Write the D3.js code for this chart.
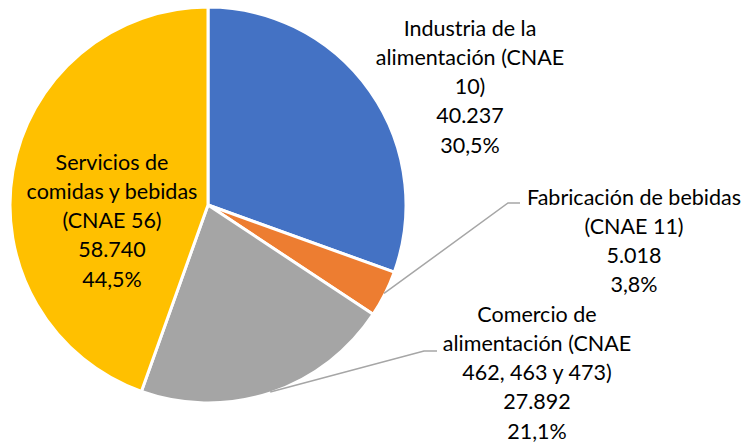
<!DOCTYPE html>
<html>
<head>
<meta charset="utf-8">
<script src="https://cdn.jsdelivr.net/npm/d3@7"></script>
<style>
  body { margin: 0; background: #fff; }
  svg { display: block; }
</style>
</head>
<body>
<script>
const categories = ["Industria de la alimentación (CNAE 10)", "Fabricación de bebidas (CNAE 11)", "Comercio de alimentación (CNAE 462, 463 y 473)", "Servicios de comidas y bebidas (CNAE 56)"];
const values = [40237, 5018, 27892, 58740];
const valueLabels = ["40.237", "5.018", "27.892", "58.740"];
const percentLabels = ["30,5%", "3,8%", "21,1%", "44,5%"];
const labelLines = [
    ["Industria de la", "alimentación (CNAE", "10)"],
    ["Fabricación de bebidas", "(CNAE 11)"],
    ["Comercio de", "alimentación (CNAE", "462, 463 y 473)"],
    ["Servicios de", "comidas y bebidas", "(CNAE 56)"]
];
const colors = ["#4472C4", "#ED7D31", "#A5A5A5", "#FFC000"];

const width = 753;
const height = 444;
const cx = 208;
const cy = 205;
const radius = 198;
const lineHeight = 29.3;

// where each label block starts (x centre, y of first line) and whether it has a leader line
const labelLayout = [
    { x: 470, y: 28, leader: false },
    { x: 634, y: 197, leader: true, elbow: [508, 203, 520] },
    { x: 537, y: 314, leader: true, elbow: [424, 351, 437] },
    { x: 112, y: 162, leader: false }
];

const svg = d3.select("body").append("svg")
    .attr("width", width)
    .attr("height", height);

const pie = d3.pie().sort(null).value(d => d)(values);
const arc = d3.arc().innerRadius(0).outerRadius(radius);

const g = svg.append("g").attr("transform", `translate(${cx}, ${cy})`);

g.selectAll("path")
    .data(pie)
    .enter()
    .append("path")
    .attr("d", arc)
    .attr("fill", (d, i) => colors[i])
    .attr("stroke", "#fff")
    .attr("stroke-width", 3)
    .attr("stroke-linejoin", "round");

// leader lines for the small slices
pie.forEach((d, i) => {
    const lay = labelLayout[i];
    if (!lay.leader) return;
    const mid = (d.startAngle + d.endAngle) / 2;
    const sx = cx + Math.sin(mid) * (radius - 1);
    const sy = cy - Math.cos(mid) * (radius - 1);
    svg.append("polyline")
        .attr("points", `${sx},${sy} ${lay.elbow[0]},${lay.elbow[1]} ${lay.elbow[2]},${lay.elbow[1]}`)
        .attr("fill", "none")
        .attr("stroke", "#A6A6A6")
        .attr("stroke-width", 1.5);
});

labelLines.forEach((lines, i) => {
    const lay = labelLayout[i];
    const all = lines.concat([valueLabels[i], percentLabels[i]]);
    const text = svg.append("text")
        .attr("text-anchor", "middle")
        .attr("font-family", "Lato, 'Open Sans', sans-serif")
        .attr("font-size", "21.5px")
        .attr("fill", "#000");
    all.forEach((t, j) => {
        text.append("tspan")
            .attr("x", lay.x)
            .attr("y", lay.y + j * lineHeight)
            .attr("dy", "0.35em")
            .text(t);
    });
});
</script>
</body>
</html>
